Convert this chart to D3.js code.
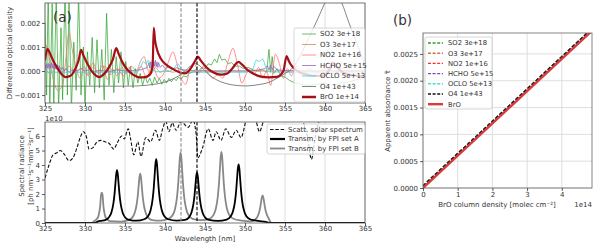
<!DOCTYPE html>
<html>
<head>
<meta charset="utf-8">
<script src="https://cdnjs.cloudflare.com/ajax/libs/d3/7.8.5/d3.min.js"></script>
<style>
  body { margin: 0; background: #fff; }
  text { font-family: "DejaVu Sans", sans-serif; fill: #333; }
</style>
</head>
<body>
<script>
// ---------- ticks ----------
var wlTicks = [325, 330, 335, 340, 345, 350, 355, 360, 365];
var odTicks = [-1, 0, 1, 2];
var odTickLabels = ["\u22120.001", "0.000", "0.001", "0.002"];
var radTicks = [0, 1, 2, 3, 4, 5, 6];
var bxTicks = [0, 1, 2, 3, 4];
var byTicks = [0, 0.0005, 0.001, 0.0015, 0.002, 0.0025];
var byTickLabels = ["0.0000", "0.0005", "0.0010", "0.0015", "0.0020", "0.0025"];
var markedWl = [342, 344];

var gasNames = ["SO2 3e+18", "O3 3e+17", "NO2 1e+16", "HCHO 5e+15", "OCLO 5e+13", "O4 1e+43", "BrO 1e+14"];
var bNames = ["SO2 3e+18", "O3 3e+17", "NO2 1e+16", "HCHO 5e+15", "OCLO 5e+13", "O4 1e+43", "BrO"];
var radNames = ["Scatt. solar spectrum", "Transm. by FPI set A", "Transm. by FPI set B"];

// ---------- (a) top: differential optical density, units 1e-3 ----------
var so2 = [[325,2.0],[325.2,-1.0],[325.4,3.5],[325.6,-1.6],[325.9,2.8],[326.1,-1.5],[326.4,3.2],[326.7,-1.6],
  [327.0,1.8],[327.2,-1.2],[327.5,3.4],[327.8,-1.0],[328.0,3.0],[328.3,-1.6],[328.6,1.2],[328.9,-0.8],
  [329.2,3.2],[329.5,-1.0],[329.8,1.0],[330.0,-1.4],[330.3,0.8],[330.6,-0.6],[330.9,1.4],[331.2,-0.9],
  [331.5,1.3],[331.8,-0.7],[332.1,0.9],[332.4,-1.2],[332.7,2.4],[333.0,-0.6],[333.3,0.9],[333.6,-0.9],
  [333.9,0.6],[334.2,-0.5],[334.5,0.8],[334.8,-0.7],[335.1,0.4],[335.4,-0.6],[335.7,0.2],[336.0,-0.7],
  [336.3,0.1],[336.6,-0.5],[336.9,-0.1],[337.2,-0.6],[337.5,-0.2],[337.8,-0.5],[338.1,-0.3],[338.4,-0.6],
  [338.7,-0.25],[339.0,-0.5],[339.3,-0.3],[339.6,-0.55],[339.9,-0.35],[340.2,-0.5],[340.5,-0.3],[340.8,-0.45],
  [341.1,-0.3],[341.4,-0.4],[341.7,-0.25],[342.0,-0.35],[342.3,-0.2],[342.7,-0.25],[343.0,-0.1],[343.4,-0.05],
  [343.8,0.05],[344.2,0.0],[344.6,0.15],[345.0,0.1],[345.4,0.3],[345.8,0.25],[346.2,0.5],[346.5,0.35],
  [346.8,0.7],[347.1,0.45],[347.5,0.5],[347.9,0.3],[348.3,0.35],[348.8,0.2],[349.3,0.2],[349.8,0.1],
  [350.4,0.15],[351.0,0.05],[351.6,0.0],[352.2,0.05],[352.7,-0.05],[353.0,0.9],[353.2,-0.05],[353.4,0.6],
  [353.6,-0.1],[354.0,0.1],[354.5,-0.2],[355.0,-0.25],[355.6,-0.4],[356.3,-0.5],[357,-0.55],[358,-0.6],
  [359,-0.55],[360,-0.5],[361,-0.6],[362,-0.5],[363,-0.45],[364,-0.35],[365,-0.3]];

var o3 = [[325.0,1.2],[325.5,0.6],[326.0,-0.3],[326.6,-0.8],[327.2,-0.6],[327.6,0.5],[328.0,1.6],[328.4,0.9],
  [328.9,0.1],[329.4,-0.3],[329.9,0.2],[330.4,-0.2],[331.0,0.35],[331.6,-0.1],[332.2,0.25],[332.8,-0.35],
  [333.4,0.1],[334.0,-0.2],[334.6,0.15],[335.2,-0.1],[335.8,0.2],[336.4,0.0],[337.0,0.45],[337.4,0.6],
  [337.8,0.1],[338.3,-0.1],[338.8,0.15],[339.4,-0.05],[340,0.05],[341,-0.05],[342,0.05],[343,-0.05],
  [345,0.02],[350,0.0],[355,0.0],[365,0.0]];

var no2 = [[325,0.1],[325.7,-0.1],[326.5,0.15],[327.2,-0.05],[328,0.2],[328.8,-0.1],[329.5,0.1],[330.3,-0.15],
  [331,0.15],[331.8,-0.1],[332.5,0.2],[333.2,-0.15],[334,0.1],[334.8,-0.2],[335.5,0.15],[336.2,-0.25],
  [337,0.2],[337.7,-0.3],[338.4,0.25],[339.2,-0.3],[340.0,0.0],[340.5,0.45],[341.0,0.8],[341.5,0.3],
  [342.0,-0.3],[342.6,-0.55],[343.2,0.2],[343.7,0.3],[344.2,-0.1],[344.8,0.2],[345.4,-0.1],[346.0,-0.3],
  [346.6,-0.15],[347.2,-0.3],[347.8,0.3],[348.5,0.95],[349.1,0.2],[349.6,-0.5],[350.2,-0.1],[350.7,0.1],
  [351.2,-0.1],[351.7,0.15],[352.2,-0.3],[352.7,0.0],[353.2,-0.6],[353.8,0.7],[354.3,0.3],[354.8,-0.3],
  [355.3,0.1],[355.8,-0.2],[356.5,0.2],[357.2,-0.1],[358,0.1],[359,-0.1],[360,0.1],[361,-0.1],[362,0.1],
  [363,0],[365,0]];

var hcho = [[325.0,0.25],[325.1,0.1],[325.2,0.3],[325.3,0.12],[325.4,0.32],[325.5,0.1],[325.6,0.28],[325.7,0.14],
  [325.8,0.35],[325.9,0.12],[326.0,0.3],[326.1,0.08],[326.2,0.3],[326.3,0.1],[326.4,0.26],[326.5,0.06],
  [326.6,0.25],[326.7,0.04],[326.8,0.2],[327.0,0.05],[327.2,0.15],[327.4,0.0],[327.6,0.1],[328.0,-0.05],
  [328.5,0.05],[329.0,0.0],[329.5,0.12],[330.0,0.0],[330.5,0.05],[331.0,-0.02],[332.0,0.03],[333.0,-0.03],
  [334.0,0.05],[335.0,0.0],[336.0,0.02],[337.0,0.05],[337.8,0.15],[338.0,0.35],[338.1,0.12],[338.2,0.38],
  [338.3,0.15],[338.4,0.42],[338.5,0.18],[338.6,0.4],[338.7,0.2],[338.8,0.45],[338.9,0.18],[339.0,0.38],
  [339.1,0.15],[339.2,0.35],[339.4,0.15],[339.7,0.25],[340.0,0.1],[340.5,0.18],[341,0.08],[341.5,0.14],
  [342,0.06],[343,0.03],[344,0.0],[345,0.0],[346,-0.02],[348,0.0],[350,0.0],[351.5,0.03],[352.5,0.1],
  [352.8,0.22],[353.0,0.05],[353.2,0.25],[353.4,0.05],[353.6,0.2],[354,0.05],[355,0.02],[357,0.0],
  [360,0.0],[365,0.0]];

var oclo = [[325,-0.05],[330,-0.05],[335,-0.05],[336.5,-0.03],[337.0,0.2],[337.3,0.4],[337.6,0.3],[337.9,0.45],
  [338.2,0.2],[338.5,0.05],[339,-0.03],[340.5,-0.02],[341.2,0.15],[341.6,0.3],[342.0,0.1],[342.5,-0.05],
  [345,-0.05],[348,-0.05],[350,-0.05],[351.0,0.1],[351.4,0.45],[351.8,0.4],[352.2,0.5],[352.6,0.15],
  [353,-0.03],[356,-0.05],[365,-0.05]];

var o4 = [[325,-0.63],[330,-0.63],[335,-0.63],[336.5,-0.62],[337.5,-0.6],[338.5,-0.56],[339.5,-0.5],
  [340.5,-0.4],[341.5,-0.24],[342.5,-0.02],[343.2,0.22],[343.7,0.32],[344.2,0.25],[345,0.0],[346,-0.28],
  [347,-0.45],[348,-0.55],[349,-0.6],[350,-0.62],[351,-0.6],[352,-0.55],[353,-0.47],[354,-0.3],[355,-0.1],
  [356,0.15],[357,0.7],[358,1.4],[359,2.1],[360,2.85],[360.8,3.4],[361.5,3.2],[362.1,2.83],[363,2.0],
  [364,1.15],[365,0.25]];

var bro = [[325.0,0.45],[325.3,0.92],[325.6,0.75],[326.0,0.45],[326.5,0.15],[327.0,-0.1],[327.6,-0.25],
  [328.2,-0.2],[328.8,0.1],[329.2,0.45],[329.5,0.88],[329.8,0.65],[330.3,0.3],[330.8,0.02],[331.3,-0.17],
  [331.8,-0.25],[332.3,-0.15],[332.9,0.1],[333.5,0.5],[333.9,0.95],[334.2,0.72],[334.7,0.35],[335.3,0.05],
  [336.0,-0.15],[336.8,-0.26],[337.5,-0.25],[338.1,-0.15],[338.45,0.2],[338.6,1.8],[338.75,1.3],[339.0,0.9],
  [339.5,0.5],[340.2,0.25],[341.0,0.08],[341.8,-0.05],[342.5,-0.1],[343.2,0.1],[343.8,0.45],[344.1,0.6],
  [344.5,0.42],[345.2,0.15],[346.0,-0.05],[347.0,-0.15],[347.8,-0.1],[348.4,0.1],[348.9,0.32],[349.2,0.38],
  [349.6,0.28],[350.3,0.05],[351.0,-0.1],[352.0,-0.23],[353.0,-0.26],[354.0,-0.24],[354.8,0.0],[355.2,0.62],
  [355.5,0.4],[356.0,0.15],[356.8,-0.05],[357.8,-0.15],[358.8,-0.2],[359.8,-0.2],[360.6,0.1],[361.0,0.35],
  [361.4,0.2],[362.0,0.0],[363.0,-0.15],[364.0,-0.2],[365.0,-0.22]];

// ---------- (a) bottom: spectral radiance, units 1e10 ----------
var solar = [[325.0,3.1],[325.5,4.0],[326.0,4.7],[326.5,4.85],[326.9,5.0],[327.4,4.75],[328.0,4.3],[328.5,4.5],
  [329.0,5.2],[329.4,5.9],[329.8,6.3],[330.2,5.9],[330.5,5.1],[331.0,5.2],[331.5,5.6],[332.0,5.7],
  [332.5,5.6],[333.0,5.5],[333.6,5.1],[334.0,5.5],[334.6,6.0],[334.9,5.8],[335.4,6.5],[335.7,5.8],
  [336.1,4.7],[336.6,5.6],[337.0,4.6],[337.6,5.9],[338.2,5.6],[338.8,6.4],[339.3,5.7],[339.7,6.5],
  [340.1,7.0],[340.5,6.3],[340.9,6.9],[341.4,6.4],[342.0,7.0],[342.9,6.6],[343.5,7.1],[343.9,6.1],
  [344.1,4.5],[344.7,5.2],[345.4,6.5],[346.0,5.7],[346.4,6.3],[347.0,5.7],[347.6,6.5],[348.3,5.9],
  [348.9,6.4],[349.5,5.9],[350.2,7.2],[350.7,7.6],[351.0,7.4],[351.4,7.0],[351.8,6.3],[352.3,7.0],
  [352.8,7.5],[353.5,7.2],[354.2,7.8],[355,7.4],[356,7.6],[357,7.2],[357.8,6.0],[358.3,4.4],[358.8,6.0],
  [359.5,7.3],[360.5,7.5],[362,7.6],[363.5,7.8],[365,7.6]];

var fpiA = [[325,0],[331.2,0],[331.6,0.1],[332.0,0.15],[332.5,0.2],[333.0,0.4],[333.3,0.73],[333.55,1.35],
  [333.7,2.04],[333.8,2.7],[333.9,3.36],[334.0,3.65],[334.1,3.36],[334.2,2.7],[334.3,2.04],[334.45,1.35],
  [334.7,0.73],[335.0,0.4],[335.5,0.22],[336.45,0.16],[337.4,0.26],[337.9,0.48],[338.2,0.88],[338.45,1.63],
  [338.6,2.46],[338.7,3.26],[338.8,4.05],[338.9,4.4],[339.0,4.05],[339.1,3.26],[339.2,2.46],[339.35,1.63],
  [339.6,0.88],[339.9,0.48],[340.4,0.26],[341.45,0.16],[342.5,0.21],[343.0,0.39],[343.3,0.7],[343.55,1.3],
  [343.7,1.96],[343.8,2.59],[343.9,3.22],[344.0,3.5],[344.1,3.22],[344.2,2.59],[344.3,1.96],[344.45,1.3],
  [344.7,0.7],[345.0,0.39],[345.5,0.21],[346.6,0.15],[347.7,0.24],[348.2,0.45],[348.5,0.81],[348.75,1.5],
  [348.9,2.27],[349.0,3.0],[349.1,3.73],[349.2,4.05],[349.3,3.73],[349.4,3.0],[349.5,2.27],[349.65,1.5],
  [349.9,0.81],[350.2,0.45],[350.7,0.24],[351.7,0.14],[352.6,0.08],[353.1,0],[365,0]];

var fpiB = [[325,0],[330.9,0],[331.1,0.1],[331.4,0.23],[331.65,0.42],[331.8,0.78],[331.9,1.18],[331.95,1.55],
  [332.0,1.93],[332.1,2.1],[332.2,1.93],[332.25,1.55],[332.3,1.18],[332.4,0.78],[332.55,0.42],[332.8,0.23],
  [333.1,0.13],[334.5,0.1],[335.4,0.2],[335.9,0.37],[336.2,0.68],[336.45,1.26],[336.6,1.9],[336.7,2.52],
  [336.8,3.13],[336.9,3.4],[337.0,3.13],[337.1,2.52],[337.2,1.9],[337.35,1.26],[337.6,0.68],[337.9,0.37],
  [338.4,0.2],[339.4,0.16],[340.45,0.29],[340.95,0.53],[341.25,0.97],[341.5,1.79],[341.65,2.72],[341.75,3.59],
  [341.85,4.46],[341.95,4.85],[342.05,4.46],[342.15,3.59],[342.25,2.72],[342.4,1.79],[342.65,0.97],[342.95,0.53],
  [343.45,0.29],[344.5,0.2],[345.55,0.29],[346.05,0.54],[346.35,0.98],[346.6,1.81],[346.75,2.74],[346.85,3.63],
  [346.95,4.51],[347.05,4.9],[347.15,4.51],[347.25,3.63],[347.35,2.74],[347.5,1.81],[347.75,0.98],[348.05,0.54],
  [348.55,0.29],[349.6,0.16],[350.7,0.11],[351.2,0.21],[351.5,0.38],[351.75,0.7],[351.9,1.06],[352.0,1.41],
  [352.1,1.75],[352.2,1.9],[352.3,1.75],[352.4,1.41],[352.5,1.06],[352.65,0.7],[352.9,0.38],[353.1,0.15],
  [353.3,0],[365,0]];

// ---------- (b) apparent absorbance vs BrO column (x in 1e14) ----------
var bCol = [0, 1, 2, 3, 4, 4.9];
var bOthers = [0.00004, 0.000642, 0.001244, 0.001846, 0.002448, 0.00299];
var bBrO = [0, 0.000602, 0.001204, 0.001806, 0.002408, 0.00295];

// ---------- styles ----------
var aColors = ["#2ca02c", "#c8946a", "#ff6b6b", "#9467bd", "#3fd6d6", "#777777", "#a50f15"];
var aOpac = [0.7, 0.85, 0.75, 0.8, 0.85, 1, 1];
var aWidth = [1, 1, 1, 1, 1, 0.9, 2.2];
var bColors = ["#2ca02c", "#c8784c", "#ff2a2a", "#8a3cc0", "#40e0d0", "#111111", "#d93a3a"];
var aSeries = [so2, o3, no2, hcho, oclo, o4, bro];

var svg = d3.select("body").append("svg").attr("width", 600).attr("height", 244);

var P1 = {l: 45, r: 365, t: 3, b: 103};
var P2 = {l: 45, r: 365, t: 122, b: 223};
var PB = {l: 423, r: 592, t: 33, b: 188};

var x1 = d3.scaleLinear().domain([325, 365]).range([P1.l, P1.r]);
var y1 = d3.scaleLinear().domain([-1.33, 2.83]).range([P1.b, P1.t]);
var y2 = d3.scaleLinear().domain([0, 6.97]).range([P2.b, P2.t]);
var bx = d3.scaleLinear().domain([0, 4.87]).range([PB.l, PB.r]);
var by = d3.scaleLinear().domain([0, 0.00289]).range([PB.b, PB.t]);

var defs = svg.append("defs");
function addClip(id, p) {
  defs.append("clipPath").attr("id", id).append("rect")
    .attr("x", p.l).attr("y", p.t).attr("width", p.r - p.l).attr("height", p.b - p.t);
}
addClip("c1", P1); addClip("c2", P2); addClip("cb", PB);

function styleAxis(g) {
  g.attr("font-family", "DejaVu Sans").attr("font-size", 7);
  g.select(".domain").remove();
  g.selectAll(".tick line").attr("stroke", "#333").attr("stroke-width", 0.8);
  g.selectAll(".tick text").attr("fill", "#333");
}

// vertical grid for (a)
[P1, P2].forEach(function(p) {
  svg.append("g").selectAll("line").data(wlTicks).enter().append("line")
    .attr("x1", function(d) { return x1(d); }).attr("x2", function(d) { return x1(d); })
    .attr("y1", p.t).attr("y2", p.b).attr("stroke", "#dedede").attr("stroke-width", 1);
});

// (a) top spectra
var line1 = d3.line().x(function(d) { return x1(d[0]); }).y(function(d) { return y1(d[1]); });
var g1 = svg.append("g").attr("clip-path", "url(#c1)");
aSeries.forEach(function(s, i) {
  g1.append("path").datum(s)
    .attr("d", line1.curve(i === 0 || i === 3 ? d3.curveLinear : d3.curveMonotoneX))
    .attr("fill", "none").attr("stroke", aColors[i]).attr("stroke-opacity", aOpac[i])
    .attr("stroke-width", aWidth[i]);
});

// (a) bottom radiance
var line2 = d3.line().x(function(d) { return x1(d[0]); }).y(function(d) { return y2(d[1]); })
  .curve(d3.curveMonotoneX);
var g2 = svg.append("g").attr("clip-path", "url(#c2)");
g2.append("path").datum(fpiB).attr("d", line2).attr("fill", "none").attr("stroke", "#888").attr("stroke-width", 1.8);
g2.append("path").datum(fpiA).attr("d", line2).attr("fill", "none").attr("stroke", "#000").attr("stroke-width", 1.8);
g2.append("path").datum(solar).attr("d", line2).attr("fill", "none").attr("stroke", "#111")
  .attr("stroke-width", 1.1).attr("stroke-dasharray", "3.5,1.8");

// marked wavelengths
[P1, P2].forEach(function(p) {
  svg.append("g").selectAll("line").data(markedWl).enter().append("line")
    .attr("x1", function(d) { return x1(d); }).attr("x2", function(d) { return x1(d); })
    .attr("y1", p.t).attr("y2", p.b)
    .attr("stroke", function(d, i) { return i === 0 ? "#888" : "#000"; })
    .attr("stroke-width", 1.1).attr("stroke-dasharray", "3.5,1.8");
});

// frames + axes for (a)
[P1, P2].forEach(function(p) {
  svg.append("rect").attr("x", p.l).attr("y", p.t).attr("width", p.r - p.l).attr("height", p.b - p.t)
    .attr("fill", "none").attr("stroke", "#555").attr("stroke-width", 0.8);
  svg.append("g").attr("transform", "translate(0," + p.b + ")")
    .call(d3.axisBottom(x1).tickValues(wlTicks).tickSize(3).tickPadding(0).tickFormat(d3.format("d")))
    .call(styleAxis);
});
svg.append("g").attr("transform", "translate(" + P1.l + ",0)")
  .call(d3.axisLeft(y1).tickValues(odTicks).tickSize(3).tickPadding(1.5)
    .tickFormat(function(d, i) { return odTickLabels[i]; }))
  .call(styleAxis);
svg.append("g").attr("transform", "translate(" + P2.l + ",0)")
  .call(d3.axisLeft(y2).tickValues(radTicks).tickSize(3).tickPadding(2).tickFormat(d3.format("d")))
  .call(styleAxis);

// (a) texts
svg.append("text").attr("transform", "translate(10,53) rotate(-90)").attr("text-anchor", "middle")
  .attr("dy", "0.35em").attr("font-size", 7).text("Differential optical density");
svg.append("text").attr("transform", "translate(22,166) rotate(-90)").attr("text-anchor", "middle")
  .attr("dy", "0.35em").attr("font-size", 7).text("Spectral radiance");
svg.append("text").attr("transform", "translate(31,166) rotate(-90)").attr("text-anchor", "middle")
  .attr("dy", "0.35em").attr("font-size", 7).text("[ph nm\u207B\u00B9s\u207B\u00B9mm\u207B\u00B2sr\u207B\u00B9]");
svg.append("text").attr("x", 205).attr("y", 241).attr("text-anchor", "middle").attr("font-size", 7)
  .text("Wavelength [nm]");
svg.append("text").attr("x", 45).attr("y", 120.5).attr("font-size", 7).text("1e10");
svg.append("text").attr("x", 53).attr("y", 22).attr("font-size", 13.5).attr("fill", "#111").text("(a)");

// (a) top legend
var lg1 = svg.append("g");
lg1.append("rect").attr("x", 294).attr("y", 28).attr("width", 71).attr("height", 74).attr("rx", 2)
  .attr("fill", "#fff").attr("fill-opacity", 0.8).attr("stroke", "#ccc").attr("stroke-width", 0.8);
gasNames.forEach(function(n, i) {
  var yy = 34 + i * 10.5;
  lg1.append("line").attr("x1", 302).attr("x2", 316).attr("y1", yy).attr("y2", yy)
    .attr("stroke", aColors[i]).attr("stroke-opacity", aOpac[i]).attr("stroke-width", aWidth[i] + (i === 6 ? 0.3 : 0));
  lg1.append("text").attr("x", 320).attr("y", yy).attr("dy", "0.35em").attr("font-size", 7).text(n);
});

// (a) bottom legend
var lg2 = svg.append("g");
lg2.append("rect").attr("x", 267).attr("y", 124).attr("width", 98).attr("height", 30).attr("rx", 2)
  .attr("fill", "#fff").attr("fill-opacity", 0.8).attr("stroke", "#ccc").attr("stroke-width", 0.8);
var radStroke = ["#111", "#000", "#888"], radW = [1.1, 2.2, 1.8], radDash = ["3.5,1.8", null, null];
radNames.forEach(function(n, i) {
  var yy = 129.5 + i * 9.5;
  lg2.append("line").attr("x1", 270).attr("x2", 285).attr("y1", yy).attr("y2", yy)
    .attr("stroke", radStroke[i]).attr("stroke-width", radW[i]).attr("stroke-dasharray", radDash[i]);
  lg2.append("text").attr("x", 288).attr("y", yy).attr("dy", "0.35em").attr("font-size", 7).text(n);
});

// ---------- panel (b) ----------
svg.append("g").selectAll("line").data(bxTicks).enter().append("line")
  .attr("x1", function(d) { return bx(d); }).attr("x2", function(d) { return bx(d); })
  .attr("y1", PB.t).attr("y2", PB.b).attr("stroke", "#dedede");
svg.append("g").selectAll("line").data(byTicks).enter().append("line")
  .attr("y1", function(d) { return by(d); }).attr("y2", function(d) { return by(d); })
  .attr("x1", PB.l).attr("x2", PB.r).attr("stroke", "#dedede");

var gb = svg.append("g").attr("clip-path", "url(#cb)");
var lineB = d3.line().x(function(d) { return bx(d[0]); }).y(function(d) { return by(d[1]); });
bNames.forEach(function(n, i) {
  var vals = i === 6 ? bBrO : bOthers;
  var pts = bCol.map(function(c, k) { return [c, vals[k]]; });
  gb.append("path").datum(pts).attr("d", lineB).attr("fill", "none")
    .attr("stroke", bColors[i]).attr("stroke-width", i === 6 ? 2.4 : 1.4)
    .attr("stroke-dasharray", i === 6 ? null : "3.5,2");
});

svg.append("rect").attr("x", PB.l).attr("y", PB.t).attr("width", PB.r - PB.l).attr("height", PB.b - PB.t)
  .attr("fill", "none").attr("stroke", "#666").attr("stroke-width", 0.8);
svg.append("g").attr("transform", "translate(0," + PB.b + ")")
  .call(d3.axisBottom(bx).tickValues(bxTicks).tickSize(3).tickPadding(1.5).tickFormat(d3.format("d")))
  .call(styleAxis);
svg.append("g").attr("transform", "translate(" + PB.l + ",0)")
  .call(d3.axisLeft(by).tickValues(byTicks).tickSize(3).tickPadding(2)
    .tickFormat(function(d, i) { return byTickLabels[i]; }))
  .call(styleAxis);

svg.append("text").attr("transform", "translate(388,111) rotate(-90)").attr("text-anchor", "middle")
  .attr("dy", "0.35em").attr("font-size", 7).text("Apparent absorbance \u03C4\u0303");
svg.append("text").attr("x", 497).attr("y", 207).attr("text-anchor", "middle").attr("font-size", 7)
  .text("BrO column density [molec cm\u207B\u00B2]");
svg.append("text").attr("x", 592).attr("y", 207).attr("text-anchor", "end").attr("font-size", 7).text("1e14");
svg.append("text").attr("x", 393).attr("y", 25).attr("font-size", 13.5).attr("fill", "#111").text("(b)");

var lgb = svg.append("g");
lgb.append("rect").attr("x", 425).attr("y", 37).attr("width", 67).attr("height", 72).attr("rx", 2)
  .attr("fill", "#fff").attr("fill-opacity", 0.8).attr("stroke", "#ccc").attr("stroke-width", 0.8);
bNames.forEach(function(n, i) {
  var yy = 43 + i * 10.2;
  lgb.append("line").attr("x1", 428).attr("x2", 443).attr("y1", yy).attr("y2", yy)
    .attr("stroke", bColors[i]).attr("stroke-width", i === 6 ? 2.4 : 1.4)
    .attr("stroke-dasharray", i === 6 ? null : "3,1.6");
  lgb.append("text").attr("x", 448).attr("y", yy).attr("dy", "0.35em").attr("font-size", 6.8).text(n);
});
</script>
</body>
</html>
